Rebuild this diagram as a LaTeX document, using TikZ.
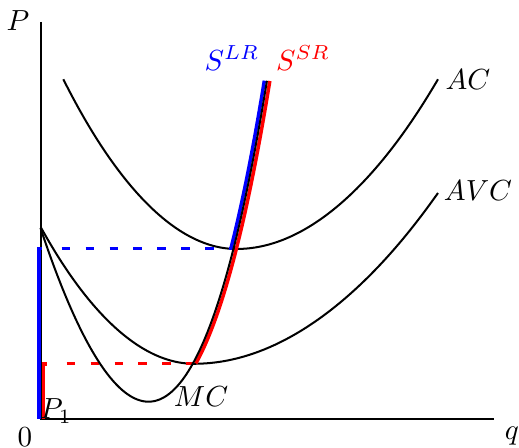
\documentclass[tikz,border=0pt]{standalone}
\begin{document}
\begin{tikzpicture}[x=0.344pt, y=-0.344pt,
  axisline/.style={line width=0.69pt},
  curve/.style={line width=0.69pt},
  supply/.style={line width=1.2pt},
  guide/.style={line width=1.1pt, dash pattern=on 2.86pt off 5.37pt},
  lab/.style={inner sep=0pt},
  declare function={mcv(\s)=190-301.6*\s+121.05*\s*\s+7.966*\s^4;}]
\useasboundingbox (0,0) rectangle (519,448);
% axes
\coordinate (O) at (41.2,419.2);
\coordinate (Ptop) at (41.2,22);
\coordinate (Qend) at (494,419.2);
\draw[axisline] (Ptop) -- (O) -- (Qend);
% AC and AVC
\draw[curve] (63.3,79.3) coordinate (ACs) parabola bend (236.5,249) (438,79.3) coordinate (ACe);
\draw[curve] (41.2,228) coordinate (AVCs) parabola bend (194,363.8) (438,193) coordinate (AVCe);
% guide lines and supply
\coordinate (Ared) at (193.3,363.8);
\coordinate (Ablue) at (233.3,248.6);
\draw[guide, red] (66.7,363.8) -- (Ared);
\draw[guide, blue] (61.7,248.6) -- (Ablue);
\draw[supply, red] (47,363.8) -- (43.4,363.8) -- (43.4,419.4);
\draw[supply, blue] (42,248.6) -- (38.8,248.6) -- (38.8,419.4);
\draw[supply, red, xshift=1.0pt] plot[domain=1.525:2.265, samples=60, variable=\s] ({40.5+100*\s},{418-mcv(\s)});
\draw[supply, blue, xshift=-0.9pt] plot[domain=1.929:2.265, samples=40, variable=\s] ({40.5+100*\s},{418-mcv(\s)});
% MC
\draw[curve] plot[domain=0:2.265, samples=150, variable=\s] ({40.5+100*\s},{418-mcv(\s)});
% labels
\node[lab] (Plab) at (18,21) {$P$};
\node[lab] (zero) at (25,437) {$0$};
\node[lab] (qlab) at (512,436) {$q$};
\node[lab] (P1) at (56,411) {$P_1$};
\node[lab] (MClab) at (201,397) {$MC$};
\node[lab] (AClab) at (468,80) {$AC$};
\node[lab] (AVClab) at (478,191) {$AVC$};
\node[lab, blue] (SLR) at (232,58) {$S^{LR}$};
\node[lab, red] (SSR) at (303,58) {$S^{SR}$};
\end{tikzpicture}
\end{document}
